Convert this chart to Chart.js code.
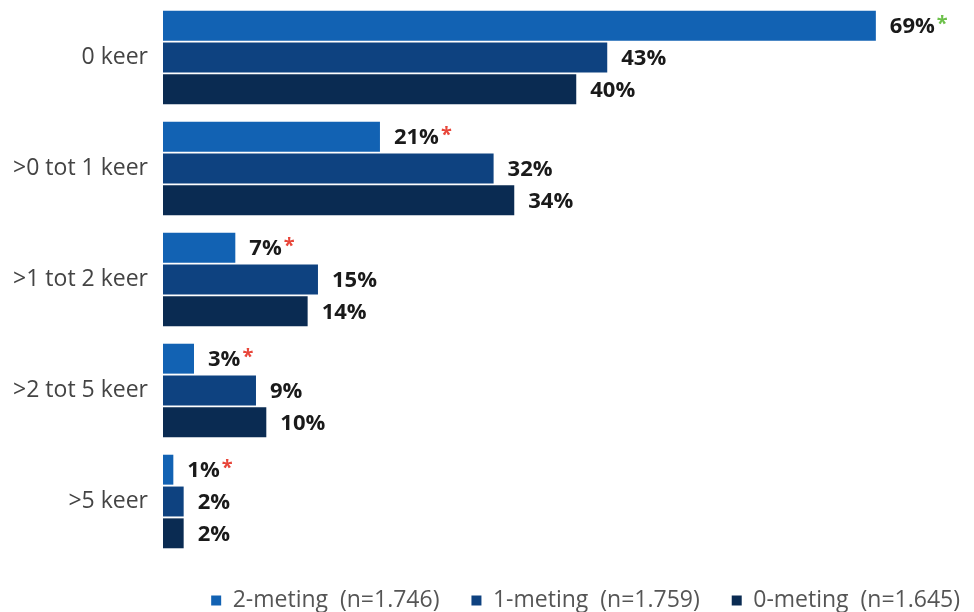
<!DOCTYPE html>
<html>
<head>
<meta charset="utf-8">
<script src="https://cdn.jsdelivr.net/npm/chart.js@4"></script>
<style>
  body { margin: 0; background: #fff; }
  #wrap { width: 974px; height: 612px; }
</style>
</head>
<body>
<div id="wrap"><canvas id="chart"></canvas></div>
<script>
// categories and values per measurement
const categories = ['0 keer', '>0 tot 1 keer', '>1 tot 2 keer', '>2 tot 5 keer', '>5 keer'];
const seriesNames = ['2-meting  (n=1.746)', '1-meting  (n=1.759)', '0-meting  (n=1.645)'];
const meting2 = [69, 21, 7, 3, 1];
const meting1 = [43, 32, 15, 9, 2];
const meting0 = [40, 34, 14, 10, 2];
// significance marker for the 2-meting: 'up' = green, 'down' = red
const significance = ['up', 'down', 'down', 'down', 'down'];

const colors = ['#1262b3', '#0e4280', '#0a2b52'];

// Draws the value labels next to each bar, plus the asterisks
const valueLabels = {
    id: 'valueLabels',
    afterDatasetsDraw(chart) {
        const ctx = chart.ctx;
        ctx.save();
        chart.data.datasets.forEach((ds, di) => {
            const meta = chart.getDatasetMeta(di);
            meta.data.forEach((bar, i) => {
                const text = ds.data[i] + '%';
                ctx.font = 'bold 22px "Open Sans", sans-serif';
                ctx.fillStyle = '#1a1a1a';
                ctx.textAlign = 'left';
                ctx.textBaseline = 'middle';
                const x = bar.x + 14;
                ctx.fillText(text, x, bar.y + 1);
                if (di === 0 && significance[i]) {
                    const w = ctx.measureText(text).width;
                    ctx.font = 'bold 20px "Open Sans", sans-serif';
                    ctx.fillStyle = significance[i] === 'up' ? '#6cc04a' : '#e8463a';
                    ctx.fillText('*', x + w + 2, bar.y - 1);
                }
            });
        });
        ctx.restore();
    }
};

const ctx = document.getElementById('chart').getContext('2d');
new Chart(ctx, {
    type: 'bar',
    data: {
        labels: categories,
        datasets: [meting2, meting1, meting0].map((values, i) => ({
            label: seriesNames[i],
            data: values,
            backgroundColor: colors[i],
            borderWidth: 0,
            barPercentage: 0.94,
            categoryPercentage: 0.86
        }))
    },
    options: {
        indexAxis: 'y',
        responsive: true,
        maintainAspectRatio: false,
        animation: false,
        layout: {
            padding: { top: 2, right: -18, bottom: -10, left: 12 }
        },
        plugins: {
            legend: {
                position: 'bottom',
                align: 'end',
                labels: {
                    boxWidth: 10,
                    boxHeight: 10,
                    padding: 32,
                    color: '#555',
                    font: { family: '"Open Sans", sans-serif', size: 23 }
                }
            },
            tooltip: { enabled: false }
        },
        scales: {
            x: {
                display: false,
                min: 0,
                max: 78.5
            },
            y: {
                grid: { display: false, drawTicks: false },
                border: { display: false },
                ticks: {
                    padding: 15,
                    color: '#444',
                    font: { family: '"Open Sans", sans-serif', size: 23 }
                },
                afterFit(scale) {
                    // no extra room above/below the first and last label
                    scale.paddingTop = 0;
                    scale.paddingBottom = 0;
                    scale.width = 151;
                }
            }
        }
    },
    plugins: [valueLabels]
});
</script>
</body>
</html>
